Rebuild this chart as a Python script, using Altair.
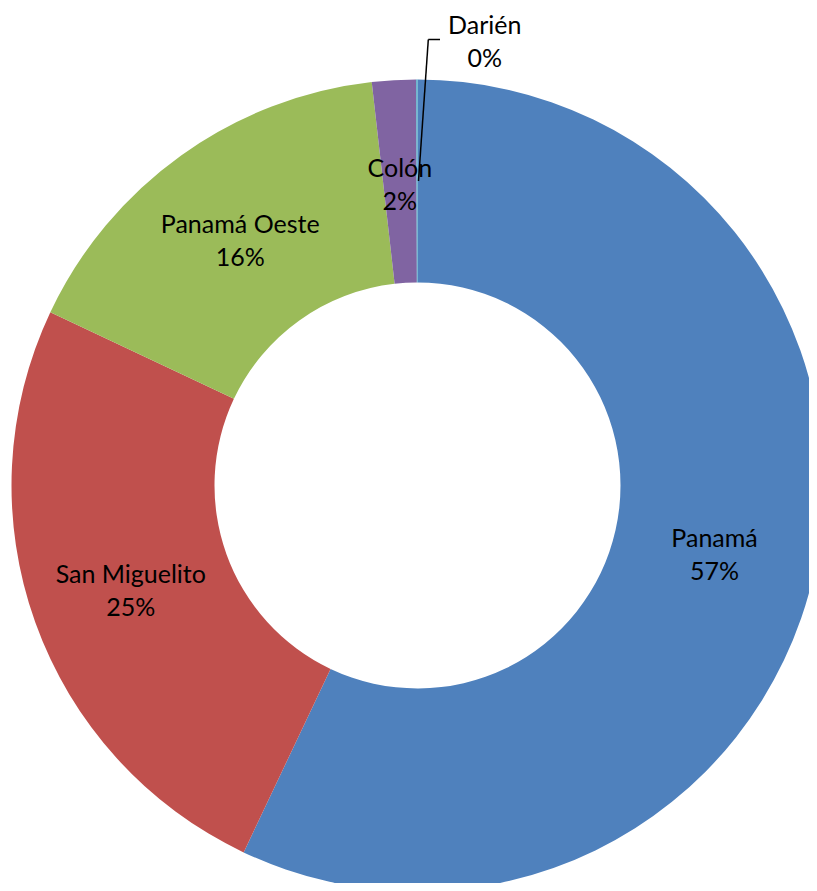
import altair as alt
import pandas as pd

regions = ["Panamá", "San Miguelito", "Panamá Oeste", "Colón", "Darién"]
values = [57.1, 25.0, 16.2, 1.75, 0.05]
pct_labels = ["57%", "25%", "16%", "2%", "0%"]
colors = ["#4F81BD", "#C0504D", "#9BBB59", "#8064A2", "#4BACC6"]

inner_labels = [f"{r}\n{p}" if r != "Darién" else "" for r, p in zip(regions, pct_labels)]
outer_labels = [f"{r}\n{p}" if r == "Darién" else "" for r, p in zip(regions, pct_labels)]

df = pd.DataFrame({
    "region": regions,
    "value": values,
    "idx": list(range(len(regions))),
    "inner": inner_labels,
    "outer": outer_labels,
})

CX, CY = 409.5, 477.5
FONT = "Lato"
FS = 25

base = alt.Chart(df)

theta = alt.Theta("value:Q", stack=True)
order = alt.Order("idx:Q", sort="ascending")

arcs = base.mark_arc(radius=406, radius2=203).encode(
    theta=theta,
    order=order,
    color=alt.Color("region:N", scale=alt.Scale(domain=regions, range=colors), legend=None),
    x=alt.value(CX),
    y=alt.value(CY),
)

inner_text = base.mark_text(
    radius=304.5, dy=-13, lineBreak="\n", font=FONT, fontSize=FS, lineHeight=33,
    color="black", baseline="middle", align="center"
).encode(
    theta=theta,
    order=order,
    text="inner:N",
    x=alt.value(CX),
    y=alt.value(CY),
)

outer_text = base.mark_text(
    radius=444, dx=68, dy=-16, lineBreak="\n", font=FONT, fontSize=FS, lineHeight=33,
    color="black", baseline="middle", align="center"
).encode(
    theta=theta,
    order=order,
    text="outer:N",
    x=alt.value(CX),
    y=alt.value(CY),
)

leader1 = alt.Chart(pd.DataFrame({"a": [0]})).mark_rule(color="black", strokeWidth=1.5).encode(
    x=alt.value(410.5), y=alt.value(173), x2=alt.value(420.3), y2=alt.value(31.5)
)
leader2 = alt.Chart(pd.DataFrame({"a": [0]})).mark_rule(color="black", strokeWidth=1.5).encode(
    x=alt.value(420.3), y=alt.value(31.5), x2=alt.value(432), y2=alt.value(31.5)
)

chart = alt.layer(arcs, inner_text, outer_text, leader1, leader2).properties(
    width=801, height=875, padding=0, autosize=alt.AutoSizeParams(type="none"),
    background="white",
).configure_view(stroke=None)

chart.save("out.html", embed_options={"renderer": "svg", "actions": False})
